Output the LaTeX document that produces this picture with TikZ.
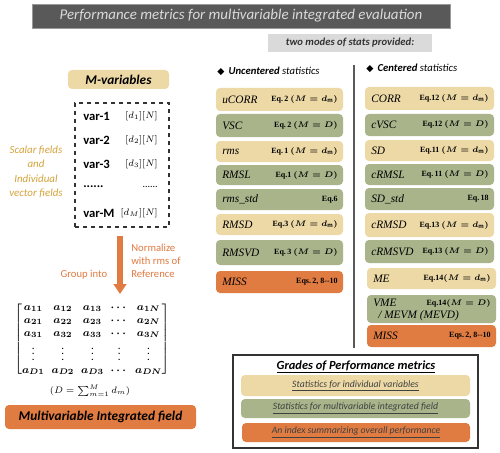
\documentclass[tikz,border=0pt]{standalone}
\usepackage{amsmath,bm}
\usepackage{fontspec}
\setmainfont{Carlito}
\newfontfamily\serf{Liberation Serif}
\newfontfamily\dejav{DejaVu Sans}
\usetikzlibrary{arrows.meta}
\definecolor{mytan}{HTML}{EDD9A6}
\definecolor{mygreen}{HTML}{A9B48B}
\definecolor{myorange}{HTML}{E07B42}
\definecolor{mygold}{HTML}{D4A43C}
\definecolor{titlegray}{HTML}{595959}
\definecolor{mylightgray}{HTML}{DADADA}
\tikzset{
  sfill/.style={rounded corners=3pt},
  lab/.style={inner sep=0pt,font=\serf\itshape\fontsize{8.5}{10}\selectfont},
  eqlab/.style={inner sep=0pt,font=\serf\bfseries\fontsize{6}{7}\selectfont},
  hdr/.style={inner sep=0pt,font=\fontsize{8}{9.6}\selectfont},
  varlab/.style={inner sep=0pt,font=\bfseries\fontsize{9.5}{11}\selectfont},
  dimlab/.style={inner sep=0pt,font=\fontsize{7.5}{9}\selectfont},
  legtxt/.style={inner sep=0pt,font=\itshape\fontsize{7.3}{9}\selectfont,text=black!75},
  bigarrow/.style={myorange,line width=5pt,-{Triangle[width=9.5pt,length=7.5pt]}},
}
\newcommand\statrow[8]{%
  \path[sfill,fill=#6] (#2,#3) rectangle (#4,#5);
  \node[lab,anchor=west] (#1) at ({#2+6},{(#3+#5)/2}) {#7};
  \node[eqlab,anchor=east] (#1e) at ({#4-5},{(#3+#5)/2}) {#8};
}
\newcommand\eqm[1]{{\boldmath$(#1)$}}
\newcommand\mymatrix{{\setlength{\arraycolsep}{2.6pt}\renewcommand{\arraystretch}{0.98}\boldmath$\begin{bmatrix}
a_{11} & a_{12} & a_{13} & \cdots & a_{1N}\\
a_{21} & a_{22} & a_{23} & \cdots & a_{2N}\\
a_{31} & a_{32} & a_{33} & \cdots & a_{3N}\\
\vdots & \vdots & \vdots & \vdots & \vdots\\
a_{D1} & a_{D2} & a_{D3} & \cdots & a_{DN}
\end{bmatrix}$}}
\begin{document}
\begin{tikzpicture}[x=0.75pt,y=-0.75pt]
\useasboundingbox (0,0) rectangle (500,453);
\fill[white] (0,0) rectangle (500,453);
% title
\node[fill=titlegray,draw=black!40,text=mylightgray,minimum width=313.5pt,minimum height=18pt,inner sep=0pt,font=\itshape\fontsize{11.2}{13}\selectfont] (title) at (241,16) {Performance metrics for multivariable integrated evaluation};
\node[fill=mylightgray,minimum width=123pt,minimum height=13.5pt,inner sep=0pt,text=black!80,font=\bfseries\itshape\fontsize{8}{9}\selectfont] (modes) at (350,43) {two modes of stats provided:};
% left column
\node[fill=mytan,rounded corners=3pt,minimum width=75.75pt,minimum height=14.25pt,inner sep=0pt,font=\bfseries\itshape\fontsize{10}{12}\selectfont] (mvar) at (118.5,79.5) {M-variables};
\node[draw=black!80,dashed,line width=0.8pt,minimum width=70.5pt,minimum height=93pt,inner sep=0pt] (dash) at (122,165) {};
\node[varlab,anchor=west] (v1) at (83,116) {var-1};
\node[varlab,anchor=west] (v2) at (83,140) {var-2};
\node[varlab,anchor=west] (v3) at (83,164) {var-3};
\node[varlab,anchor=west] (v4) at (83,187) {......};
\node[varlab,anchor=west] (v5) at (83,213) {var-M};
\node[dimlab,anchor=east] (d1) at (158,116) {$[d_1][N]$};
\node[dimlab,anchor=east] (d2) at (158,140) {$[d_2][N]$};
\node[dimlab,anchor=east] (d3) at (158,164) {$[d_3][N]$};
\node[dimlab,anchor=east] (d4) at (158,187) {......};
\node[dimlab,anchor=east] (d5) at (158,213) {$[d_M][N]$};
\node[align=center,text=mygold,inner sep=0pt,font=\itshape\fontsize{8.2}{10.9}\selectfont] (scal) at (36,172) {Scalar fields\\and\\Individual\\vector fields};
\coordinate (arrS) at (120,236);
\coordinate (arrE) at (120,294);
\draw[bigarrow] (arrS) -- (arrE);
\node[align=left,anchor=west,text=myorange,inner sep=0pt,font=\fontsize{8}{9.75}\selectfont] (norm) at (131,261) {Normalize\\with rms of\\Reference};
\node[text=myorange,inner sep=0pt,font=\fontsize{8}{9.75}\selectfont] (grp) at (84,275) {Group into};
\node[inner sep=0pt,font=\fontsize{8.3}{10}\selectfont] (mat) at (92,339) {\mymatrix};
\node[inner sep=0pt,font=\fontsize{7.5}{9}\selectfont] (dsum) at (90,391) {$(D=\sum_{m=1}^{M} d_m)$};
\node[fill=myorange,rounded corners=3pt,minimum width=143.25pt,minimum height=18pt,inner sep=0pt,font=\bfseries\itshape\fontsize{10}{12}\selectfont] (mif) at (100.5,417) {Multivariable Integrated field};
% headers
\node[hdr,anchor=west] (hu) at (217,71) {{\dejav\fontsize{7}{8}\selectfont ◆}\, \textbf{\textit{Uncentered}} \textit{statistics}};
\node[hdr,anchor=west] (hc) at (366,68) {{\dejav\fontsize{7}{8}\selectfont ◆}\, \textbf{\textit{Centered}} \textit{statistics}};
\draw[black!65,line width=1.2pt] (354,65) -- (354,348);
% uncentered
\statrow{u1}{216}{88}{343}{111}{mytan}{uCORR}{Eq.\,2 \eqm{M=d_{\mathrm m}}}
\statrow{u2}{216}{114}{343}{137}{mygreen}{VSC}{Eq.\,2 \eqm{M=D}}
\statrow{u3}{216}{141}{343}{162}{mytan}{rms}{Eq.\,1 \eqm{M=d_{\mathrm m}}}
\statrow{u4}{216}{165}{343}{185}{mygreen}{RMSL}{Eq.1 \eqm{M=D}}
\statrow{u5}{216}{189}{343}{210}{mygreen}{rms\_std}{Eq.6}
\statrow{u6}{216}{214}{343}{235}{mytan}{RMSD}{Eq.3 \eqm{M=d_{\mathrm m}}}
\statrow{u7}{216}{240}{343}{265}{mygreen}{RMSVD}{Eq.\,3 \eqm{M=D}}
\statrow{u8}{216}{271}{343}{293}{myorange}{MISS}{Eqs.\,2, 8--10}
% centered
\statrow{c1}{365}{87}{494}{110}{mytan}{CORR}{Eq.12 \eqm{M=d_{\mathrm m}}}
\statrow{c2}{365}{114}{494}{136}{mygreen}{cVSC}{Eq.12 \eqm{M=D}}
\statrow{c3}{365}{140}{494}{161}{mytan}{SD}{Eq.11 \eqm{M=d_{\mathrm m}}}
\statrow{c4}{365}{164}{494}{185}{mygreen}{cRMSL}{Eq.\,11 \eqm{M=D}}
\statrow{c5}{365}{188}{494}{210}{mygreen}{SD\_std}{Eq.\,18}
\statrow{c6}{365}{213}{494}{237}{mytan}{cRMSD}{Eq.13 \eqm{M=d_{\mathrm m}}}
\statrow{c7}{365}{240}{494}{263}{mygreen}{cRMSVD}{Eq.13 \eqm{M=D}}
\statrow{c8}{367}{268}{496}{289}{mytan}{ME}{Eq.14\eqm{M=d_{\mathrm m}}}
\path[sfill,fill=mygreen] (367,295) rectangle (496,323);
\node[lab,anchor=west] (c9) at (373,303) {VME};
\node[eqlab,anchor=east] (c9e) at (491,303) {Eq.14\eqm{M=D}};
\node[lab,anchor=west] (c9b) at (378,316) {/ MEVM (MEVD)};
\statrow{c10}{367}{325}{496}{347}{myorange}{MISS}{Eqs.\,2, 8--10}
% legend
\node[draw=black!80,line width=0.8pt,fill=white,minimum width=183.75pt,minimum height=69.75pt,inner sep=0pt] (leg) at (355.5,401.5) {};
\node[inner sep=0pt,font=\bfseries\itshape\fontsize{9.3}{11}\selectfont] (legt) at (356,367) {\underline{Grades of Performance metrics}};
\path[sfill,fill=mytan] (241,375) rectangle (470,396);
\node[legtxt] (l1) at (355.5,385.5) {\underline{Statistics for individual variables}};
\path[sfill,fill=mygreen] (241,399) rectangle (470,418);
\node[legtxt] (l2) at (355.5,408.5) {\underline{Statistics for multivariable integrated field}};
\path[sfill,fill=myorange] (242,423) rectangle (470,442);
\node[legtxt] (l3) at (356,432.5) {\underline{An index summarizing overall performance}};
\end{tikzpicture}
\end{document}
